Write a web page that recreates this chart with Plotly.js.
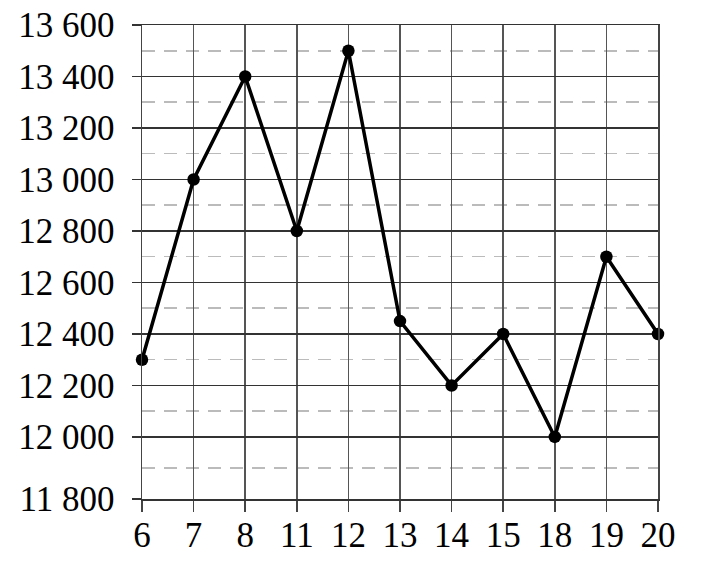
<!DOCTYPE html>
<html><head><meta charset="utf-8">
<script src="https://cdn.plot.ly/plotly-3.0.1.min.js"></script>
<style>body{margin:0;background:#fff}</style>
</head><body>
<div id="chart" style="width:712px;height:578px"></div>
<script>
const categories = ["6","7","8","11","12","13","14","15","18","19","20"];
const values = [12300, 13000, 13400, 12800, 13500, 12450, 12200, 12400, 12000, 12700, 12400];
// bottom axis line is drawn a little lower than a linear 11800 (broken scale look)
const yTickVals = [11759, 12000, 12200, 12400, 12600, 12800, 13000, 13200, 13400, 13600];
const yTickText = ["11 800", "12 000", "12 200", "12 400", "12 600", "12 800", "13 000", "13 200", "13 400", "13 600"];
const yMinorVals = [11880, 12100, 12300, 12500, 12700, 12900, 13100, 13300, 13500];

const trace = {
  x: categories, y: values, type: 'scatter', mode: 'lines+markers',
  line: {color: '#000', width: 3.5},
  marker: {color: '#000', size: 12.5},
  cliponaxis: false
};
const font = {family: '"Liberation Serif", "Times New Roman", serif', size: 35, color: '#000'};
const layout = {
  width: 712, height: 578,
  margin: {l: 142, r: 54, t: 25, b: 79},
  paper_bgcolor: '#fff', plot_bgcolor: '#fff',
  showlegend: false,
  font: font,
  xaxis: {
    type: 'category', range: [0, 10], autorange: false,
    showgrid: true, gridcolor: '#555', gridwidth: 1.5,
    showline: true, linecolor: '#333', linewidth: 1.5, mirror: true,
    ticks: 'outside', ticklen: 11, tickwidth: 1.5, tickcolor: '#444',
    ticklabelstandoff: -7,
    tickfont: font, fixedrange: true
  },
  yaxis: {
    range: [11759, 13600], autorange: false,
    tickmode: 'array', tickvals: yTickVals, ticktext: yTickText,
    showgrid: true, gridcolor: '#333', gridwidth: 1.5,
    showline: true, linecolor: '#444', linewidth: 1.5, mirror: true,
    ticks: 'outside', ticklen: 9, tickwidth: 1.5, tickcolor: '#333',
    ticklabelstandoff: 10,
    tickfont: font, zeroline: false,
    minor: {tickmode: 'array', tickvals: yMinorVals, showgrid: true, griddash: '13px,9px', gridcolor: '#bbb', gridwidth: 1.5, ticks: ''}
  }
};
Plotly.newPlot('chart', [trace], layout, {displayModeBar: false, staticPlot: true});
</script>
</body></html>
